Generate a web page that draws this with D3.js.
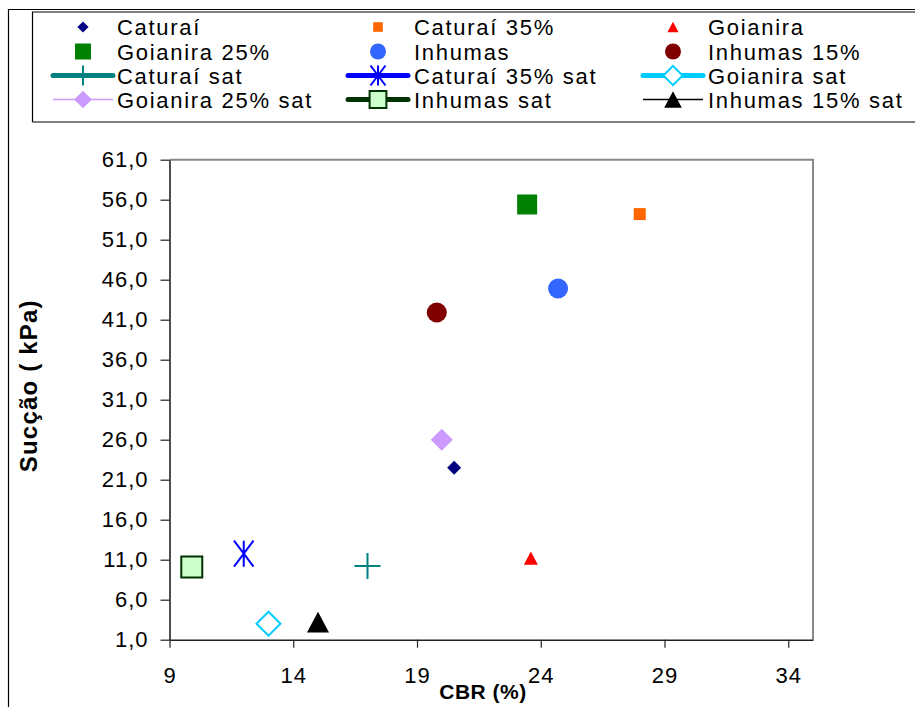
<!DOCTYPE html>
<html><head><meta charset="utf-8">
<script src="https://cdn.jsdelivr.net/npm/d3@7"></script>
<style>
body{margin:0;background:#fff;}
svg{display:block;font-family:"Liberation Sans",Arial,sans-serif;}
</style></head>
<body><svg id="c" width="915" height="707"></svg>
<script>
// ---- data ----
const seriesNames = ["Caturaí","Caturaí 35%","Goianira","Goianira 25%","Inhumas","Inhumas 15%",
  "Caturaí sat","Caturaí 35% sat","Goianira sat","Goianira 25% sat","Inhumas sat","Inhumas 15% sat"];
const cbrValues    = [20.5, 28.0, 23.6, 23.45, 24.7, 19.8, 17.0, 12.0, 13.0, 20.0, 9.9, 15.0];
const succaoValues = [22.5, 54.2, 11.2, 55.4, 44.9, 41.9, 10.2, 11.75, 3.0, 26.0, 10.1, 3.2];
const xTicks = [9, 14, 19, 24, 29, 34];
const yTicks = [1, 6, 11, 16, 21, 26, 31, 36, 41, 46, 51, 56, 61];
const xTitle = "CBR (%)";
const yTitle = "Sucção ( kPa)";

// ---- styles ----
const styles = [
  {shape:"diamond", size:14, fill:"#000080", stroke:"none"},
  {shape:"square", size:12, fill:"#FF6600", stroke:"none"},
  {shape:"triangle", size:14, fill:"#FF0000", stroke:"none"},
  {shape:"square", size:20, fill:"#008000", stroke:"none"},
  {shape:"circle", size:20, fill:"#3366FF", stroke:"none"},
  {shape:"circle", size:20, fill:"#800000", stroke:"none"},
  {shape:"plus", size:26, fill:"none", stroke:"#008080", sw:2, line:"#008080", lw:5},
  {shape:"asterisk", size:26, fill:"none", stroke:"#0000FF", sw:2, line:"#0000FF", lw:5},
  {shape:"diamond", size:24, fill:"#fff", stroke:"#00CCFF", sw:2, line:"#00CCFF", lw:5},
  {shape:"diamond", size:22, fill:"#CC99FF", stroke:"none", line:"#CC99FF", lw:1.5},
  {shape:"square", size:21, fill:"#CCFFCC", stroke:"#003300", sw:2, line:"#003300", lw:5},
  {shape:"triangle", size:22, fill:"#000", stroke:"none", line:"#000", lw:1.5}
];

function markerPath(shape, s){
  const h = s/2;
  switch(shape){
    case "diamond": return `M0,${-h}L${h},0L0,${h}L${-h},0Z`;
    case "square": return `M${-h},${-h}H${h}V${h}H${-h}Z`;
    case "triangle": { const hh = s*0.47; return `M0,${-hh}L${h},${hh}L${-h},${hh}Z`; }
    case "circle": return `M${h},0A${h},${h} 0 1,1 ${-h},0A${h},${h} 0 1,1 ${h},0Z`;
    case "plus": return `M${-h},0H${h}M0,${-h}V${h}`;
    case "asterisk": { const d = h*0.75; return `M0,${-h}V${h}M${-d},${-h}L${d},${h}M${d},${-h}L${-d},${h}`; }
  }
}

const svg = d3.select("#c");
const x = d3.scaleLinear().domain([9, 35]).range([169.5, 813]);
const y = d3.scaleLinear().domain([1, 61]).range([639.7, 159.7]);

// outer chart border
svg.append("path").attr("d","M8.5,707V9.5H915").attr("fill","none").attr("stroke","#000").attr("stroke-width",1.2);

// plot frame (top/right gray)
svg.append("path").attr("d",`M${x(9)},${y(61)}H${x(35)}V${y(1)}`).attr("fill","none").attr("stroke","#888").attr("stroke-width",2);

const fontSize = 22;
// axes
const yAxis = d3.axisLeft(y).tickValues(yTicks).tickSize(9).tickSizeOuter(0).tickPadding(12)
  .tickFormat(d => d.toFixed(1).replace(".", ","));
const gy = svg.append("g").attr("transform",`translate(${x(9)},0)`).call(yAxis);
const xAxis = d3.axisBottom(x).tickValues(xTicks).tickSize(8).tickSizeOuter(0).tickPadding(20);
const gx = svg.append("g").attr("transform",`translate(0,${y(1)})`).call(xAxis);
[gx, gy].forEach(g => {
  g.select(".domain").attr("stroke","#222").attr("stroke-width",1.6);
  g.selectAll(".tick line").attr("stroke","#222").attr("stroke-width",1.2);
  g.selectAll("text").attr("font-size",fontSize).attr("fill","#000")
    .attr("font-family","'Liberation Sans',Arial,sans-serif").style("letter-spacing","1px");
});

// axis titles
svg.append("text").attr("x", 483).attr("y", 699).attr("text-anchor","middle")
  .attr("font-size",21).attr("font-weight","bold").style("letter-spacing","0.5px").text(xTitle);
svg.append("text").attr("transform",`translate(37,${(y(1)+y(61))/2 - 14}) rotate(-90)`)
  .attr("text-anchor","middle").attr("font-size",24).attr("font-weight","bold")
  .style("letter-spacing","1.2px").text(yTitle);

// points
const pts = seriesNames.map((n,i)=>({name:n, cbr:cbrValues[i], s:succaoValues[i], st:styles[i]}));
svg.append("g").selectAll("path").data(pts).join("path")
  .attr("transform", d => `translate(${x(d.cbr)},${y(d.s)})`)
  .attr("d", d => markerPath(d.st.shape, d.st.size))
  .attr("fill", d => d.st.fill)
  .attr("stroke", d => d.st.stroke)
  .attr("stroke-width", d => d.st.sw || 0);

// legend
svg.append("path").attr("d","M32.5,122V12H915M32.5,122H915").attr("fill","none").attr("stroke","#000").attr("stroke-width",1.2);
const colMarkerX = [83, 378, 673];
const colTextX = [117, 414, 708];
const rowY = [27, 51.5, 75.5, 99.5];
const leg = svg.append("g");
pts.forEach((d,i) => {
  const c = i % 3, r = Math.floor(i/3);
  const mx = colMarkerX[c], my = rowY[r];
  const g = leg.append("g");
  if (d.st.line) {
    g.append("line").attr("x1", mx-30).attr("x2", mx+30).attr("y1", my).attr("y2", my)
      .attr("stroke", d.st.line).attr("stroke-width", d.st.lw).attr("stroke-linecap", d.st.lw > 2 ? "round" : "butt");
  }
  const ls = i < 6 ? d.st.size*0.8 : Math.min(d.st.size*0.8, 20);
  g.append("path").attr("transform",`translate(${mx},${my})`)
    .attr("d", markerPath(d.st.shape, ls))
    .attr("fill", d.st.fill).attr("stroke", d.st.stroke).attr("stroke-width", d.st.sw || 0);
  g.append("text").attr("x", colTextX[c]).attr("y", my + 8).attr("font-size", fontSize)
    .style("letter-spacing","1.7px").text(d.name);
});
</script></body></html>
